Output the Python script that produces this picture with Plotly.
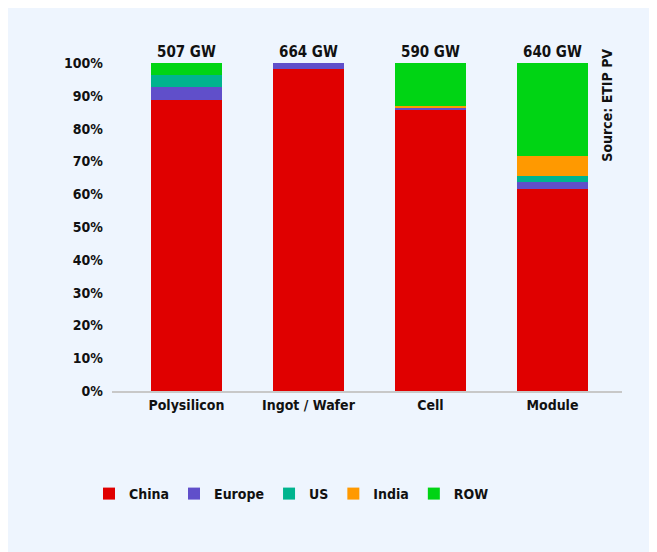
import plotly.graph_objects as go

# shares of global manufacturing capacity, %
stages = ["Polysilicon", "Ingot / Wafer", "Cell", "Module"]
capacity_labels = ["507 GW", "664 GW", "590 GW", "640 GW"]

china = [88.7, 98.3, 85.6, 61.6]
europe = [4.0, 1.7, 0.7, 2.1]
us = [3.6, 0.0, 0.0, 1.8]
india = [0.0, 0.0, 0.7, 6.1]
row = [3.7, 0.0, 13.0, 28.4]

FONT = "DejaVu Sans Condensed"
INK = "#111111"

series = [
    ("China", china, "#E00000"),
    ("Europe", europe, "#604FCA"),
    ("US", us, "#00B48E"),
    ("India", india, "#FF9900"),
    ("ROW", row, "#00D414"),
]

fig = go.Figure()
for name, vals, color in series:
    fig.add_trace(go.Bar(
        x=stages, y=vals, name=name,
        marker=dict(color=color, line=dict(width=0)),
    ))

# capacity labels on top of each stack
for stage, lab in zip(stages, capacity_labels):
    fig.add_annotation(
        x=stage, y=100, text=lab, showarrow=False,
        yanchor="bottom", yshift=0,
        font=dict(family=FONT, size=15, color=INK, weight=600),
    )

fig.add_annotation(
    xref="paper", yref="paper", x=0.97, y=0.872,
    xanchor="center", yanchor="middle",
    text="Source: ETIP PV", textangle=-90, showarrow=False,
    font=dict(family=FONT, size=14, color=INK, weight=600),
)

fig.update_layout(
    barmode="stack",
    bargap=0.42,
    width=649, height=544,
    margin=dict(l=104, r=35, t=55, b=161),
    paper_bgcolor="#EEF5FE",
    plot_bgcolor="#EEF5FE",
    font=dict(family=FONT, size=14, color=INK, weight=600),
    showlegend=True,
    legend=dict(
        orientation="h", x=0.352, xanchor="center", y=-0.314, yanchor="middle",
        font=dict(family=FONT, size=14, color=INK, weight=600),
        bgcolor="rgba(0,0,0,0)", itemwidth=30, traceorder="normal",
    ),
    xaxis=dict(
        range=[-0.61, 3.57], showline=True, linecolor="#C8C8C8", linewidth=1.5,
        ticks="", showgrid=False,
    ),
    yaxis=dict(
        range=[0, 100], dtick=10, ticksuffix="%", showgrid=False,
        zeroline=False, showline=False, ticks="", ticklabelstandoff=8,
    ),
)

fig.write_html("out.html")
